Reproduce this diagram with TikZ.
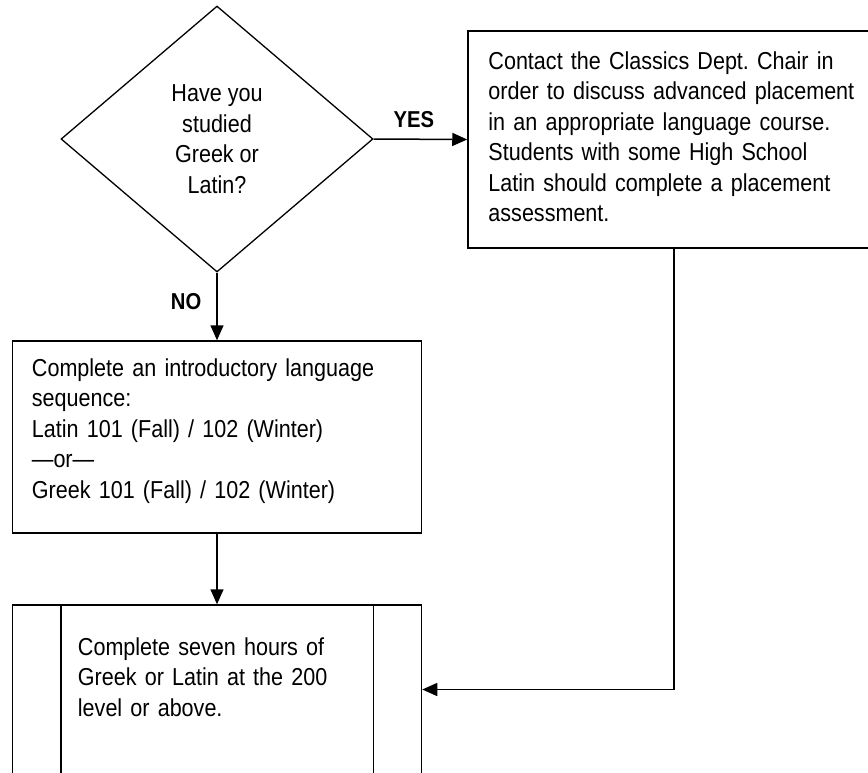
\documentclass[tikz,border=0pt]{standalone}
\usepackage{fontspec}
\setmainfont{Liberation Sans}[FakeStretch=0.88]
\frenchspacing
\usetikzlibrary{shapes.geometric,arrows.meta,positioning}

\tikzset{
    every node/.style={inner sep=0pt, font=\fontsize{24.5pt}{30.5pt}\selectfont},
    decision/.style={diamond, draw, line width=1.3pt, minimum width=312pt, minimum height=266pt, align=center},
    block/.style={rectangle, draw, line width=1.5pt},
    txt/.style={align=left, anchor=base west, text width=400pt},
    lbl/.style={font=\bfseries\fontsize{23pt}{26pt}\selectfont},
    arr/.style={line width=1.5pt, -{Triangle[length=15pt,width=13pt]}}
}

\begin{document}
\begin{tikzpicture}[x=1pt, y=-1pt]
    \useasboundingbox (0,0) rectangle (868,772);

    % question
    \node[decision] (ask) at (217,139) {Have you\\studied\\Greek or\\Latin?};

    % yes branch
    \node[block, minimum width=412pt, minimum height=217pt] (plan) at (674,139.5) {};
    \node[txt] (plantext) at ([shift={(21,39)}]plan.north west)
        {Contact the Classics Dept. Chair in\\
         order to discuss advanced placement\\
         in an appropriate language course.\\
         Students with some High School\\
         Latin should complete a placement\\
         assessment.};

    % no branch
    \node[block, minimum width=409pt, minimum height=192pt] (seq) at (217,437) {};
    \node[txt] (seqtext) at ([shift={(20,36)}]seq.north west)
        {Complete an introductory language\\
         sequence:\\
         Latin 101 (Fall) / 102 (Winter)\\
         ---or---\\
         Greek 101 (Fall) / 102 (Winter)};

    % 200 level
    \node[block, minimum width=409pt, minimum height=169pt] (upper) at (217,689.5) {};
    \draw[line width=1.5pt] ([xshift=49pt]upper.north west) -- ([xshift=49pt]upper.south west);
    \draw[line width=1.5pt] ([xshift=-49pt]upper.north east) -- ([xshift=-49pt]upper.south east);
    \node[txt] (uppertext) at ([shift={(66,51)}]upper.north west)
        {Complete seven hours of\\
         Greek or Latin at the 200\\
         level or above.};

    \draw[arr] (ask.east) -- node[lbl, pos=.43, above=11pt] {YES} (plan.west);
    \draw[arr] (ask.south) -- node[lbl, pos=.43, left=15pt] {NO} (seq.north);
    \draw[arr] (seq.south) -- (upper.north);
    \draw[arr] (plan.south) |- (upper.east);
\end{tikzpicture}
\end{document}
